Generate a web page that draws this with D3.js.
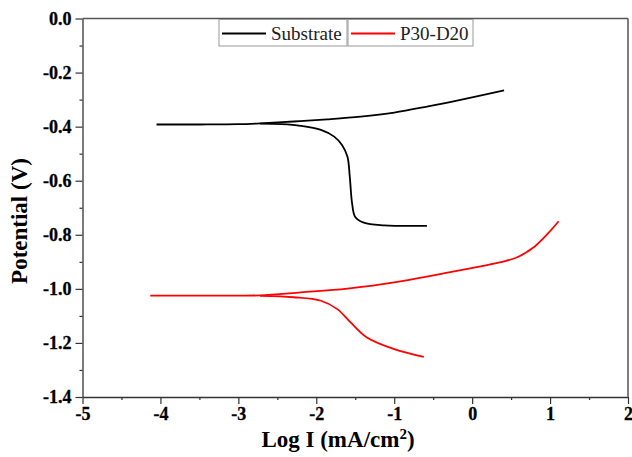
<!DOCTYPE html>
<html>
<head>
<meta charset="utf-8">
<script src="https://cdn.jsdelivr.net/npm/d3@7"></script>
<style>
  body { margin: 0; background: #fff; }
  svg { display: block; }
  .ax text { font-family: 'Liberation Serif', 'Times New Roman', serif; font-weight: bold; font-size: 18px;
             stroke: #000; stroke-width: 0.3px; }
</style>
</head>
<body>
<div id="chart"></div>
<script>
// Tafel curves: [log I, potential]
var substrateAnodic = [[-4.05, -0.392], [-3.5, -0.392], [-3.0, -0.391], [-2.72, -0.388], [-2.29, -0.381],
  [-1.86, -0.373], [-1.43, -0.363], [-1.0, -0.348], [-0.58, -0.326], [-0.15, -0.301], [0.41, -0.266]];
var substrateCathodic = [[-2.72, -0.389], [-2.45, -0.391], [-2.20, -0.397], [-1.94, -0.412], [-1.77, -0.437],
  [-1.67, -0.468], [-1.60, -0.511], [-1.57, -0.586], [-1.54, -0.685], [-1.50, -0.734], [-1.39, -0.755],
  [-1.13, -0.765], [-0.58, -0.767]];
var coatingAnodic = [[-4.13, -1.025], [-3.5, -1.025], [-3.0, -1.025], [-2.72, -1.024], [-2.20, -1.013],
  [-1.60, -0.999], [-0.92, -0.972], [-0.28, -0.938], [0.37, -0.901], [0.58, -0.883], [0.79, -0.846],
  [0.97, -0.796], [1.11, -0.750]];
var coatingCathodic = [[-2.72, -1.026], [-2.29, -1.031], [-1.94, -1.044], [-1.73, -1.075], [-1.56, -1.124],
  [-1.35, -1.180], [-1.0, -1.223], [-0.62, -1.252]];

var legendNames = ["Substrate", "P30-D20"];
var colors = ["#000000", "#ff0000"];
var xTicks = [-5, -4, -3, -2, -1, 0, 1, 2];
var yTicks = [0, -0.2, -0.4, -0.6, -0.8, -1.0, -1.2, -1.4];

var serif = "'Liberation Serif', 'Times New Roman', serif";
var width = 632, height = 457;
var margin = {top: 18.5, right: 4, bottom: 60, left: 82.5};
var iw = width - margin.left - margin.right,
    ih = height - margin.top - margin.bottom;

// plain hyphen instead of d3's unicode minus
var fmtX = d => d3.format("d")(d).replace("\u2212", "-");
var fmtY = d => d3.format(".1f")(d).replace("\u2212", "-");

var svg = d3.select("#chart").append("svg")
    .attr("width", width)
    .attr("height", height);

var g = svg.append("g")
    .attr("transform", "translate(" + margin.left + "," + margin.top + ")");

var x = d3.scaleLinear().domain([-5, 2]).range([0, iw]);
var y = d3.scaleLinear().domain([-1.4, 0]).range([ih, 0]);

// minor ticks
var xMinor = d3.range(-4.5, 2, 1);
var yMinor = d3.range(-1.3, 0, 0.2);

g.append("g")
    .attr("transform", "translate(0," + ih + ")")
    .call(d3.axisBottom(x).tickValues(xMinor).tickSize(3).tickFormat(""))
    .call(a => a.select(".domain").remove());
g.append("g")
    .call(d3.axisLeft(y).tickValues(yMinor).tickSize(3).tickFormat(""))
    .call(a => a.select(".domain").remove());

var xAxis = g.append("g")
    .attr("class", "ax")
    .attr("transform", "translate(0," + ih + ")")
    .call(d3.axisBottom(x).tickValues(xTicks).tickSize(7).tickSizeOuter(0).tickFormat(fmtX));
var yAxis = g.append("g")
    .attr("class", "ax")
    .call(d3.axisLeft(y).tickValues(yTicks).tickSize(7).tickSizeOuter(0).tickFormat(fmtY));

g.selectAll("line").attr("stroke", "#333").attr("stroke-width", 1.2);
g.selectAll(".domain").attr("stroke", "#333").attr("stroke-width", 1.3);
xAxis.selectAll("text").attr("fill", "#000").attr("y", 10).attr("dy", "0.71em");
yAxis.selectAll("text").attr("fill", "#000").attr("x", -11);

// frame top and right
g.append("line").attr("x1", 0).attr("x2", iw).attr("y1", 0).attr("y2", 0)
    .attr("stroke", "#555").attr("stroke-width", 1.5);
g.append("line").attr("x1", iw).attr("x2", iw).attr("y1", 0).attr("y2", ih)
    .attr("stroke", "#555").attr("stroke-width", 1.5);

// axis titles
svg.append("text")
    .attr("x", 338)
    .attr("y", 447)
    .attr("text-anchor", "middle")
    .style("font-family", serif)
    .style("font-weight", "bold")
    .style("font-size", "23px")
    .html('Log I (mA/cm<tspan dy="-8" font-size="15">2</tspan><tspan dy="8">)</tspan>');

svg.append("text")
    .attr("transform", "translate(27,221) rotate(-90)")
    .attr("text-anchor", "middle")
    .style("font-family", serif)
    .style("font-weight", "bold")
    .style("font-size", "23px")
    .text("Potential (V)");

var line = d3.line()
    .x(d => x(d[0]))
    .y(d => y(d[1]))
    .curve(d3.curveCatmullRom.alpha(0.5));

var series = [
  {data: substrateAnodic, c: 0}, {data: substrateCathodic, c: 0},
  {data: coatingAnodic, c: 1}, {data: coatingCathodic, c: 1}
];
g.selectAll("path.curve")
    .data(series)
    .enter().append("path")
    .attr("class", "curve")
    .attr("fill", "none")
    .attr("stroke", d => colors[d.c])
    .attr("stroke-width", 1.8)
    .attr("d", d => line(d.data));

// legend: two boxes next to each other
var legendX = [219, 348], legendW = [128, 125];
var lg = svg.append("g");
legendNames.forEach(function(name, i) {
  var item = lg.append("g").attr("transform", "translate(" + legendX[i] + ",19.5)");
  item.append("rect").attr("width", legendW[i]).attr("height", 26.5)
      .attr("fill", "#fff").attr("stroke", "#999").attr("stroke-width", 1);
  item.append("line").attr("x1", 3).attr("x2", 47).attr("y1", 14).attr("y2", 14)
      .attr("stroke", colors[i]).attr("stroke-width", 1.8);
  item.append("text").attr("x", 52).attr("y", 20)
      .style("font-family", serif)
      .style("font-size", "19px")
      .attr("fill", "#222")
      .text(name);
});
</script>
</body>
</html>
